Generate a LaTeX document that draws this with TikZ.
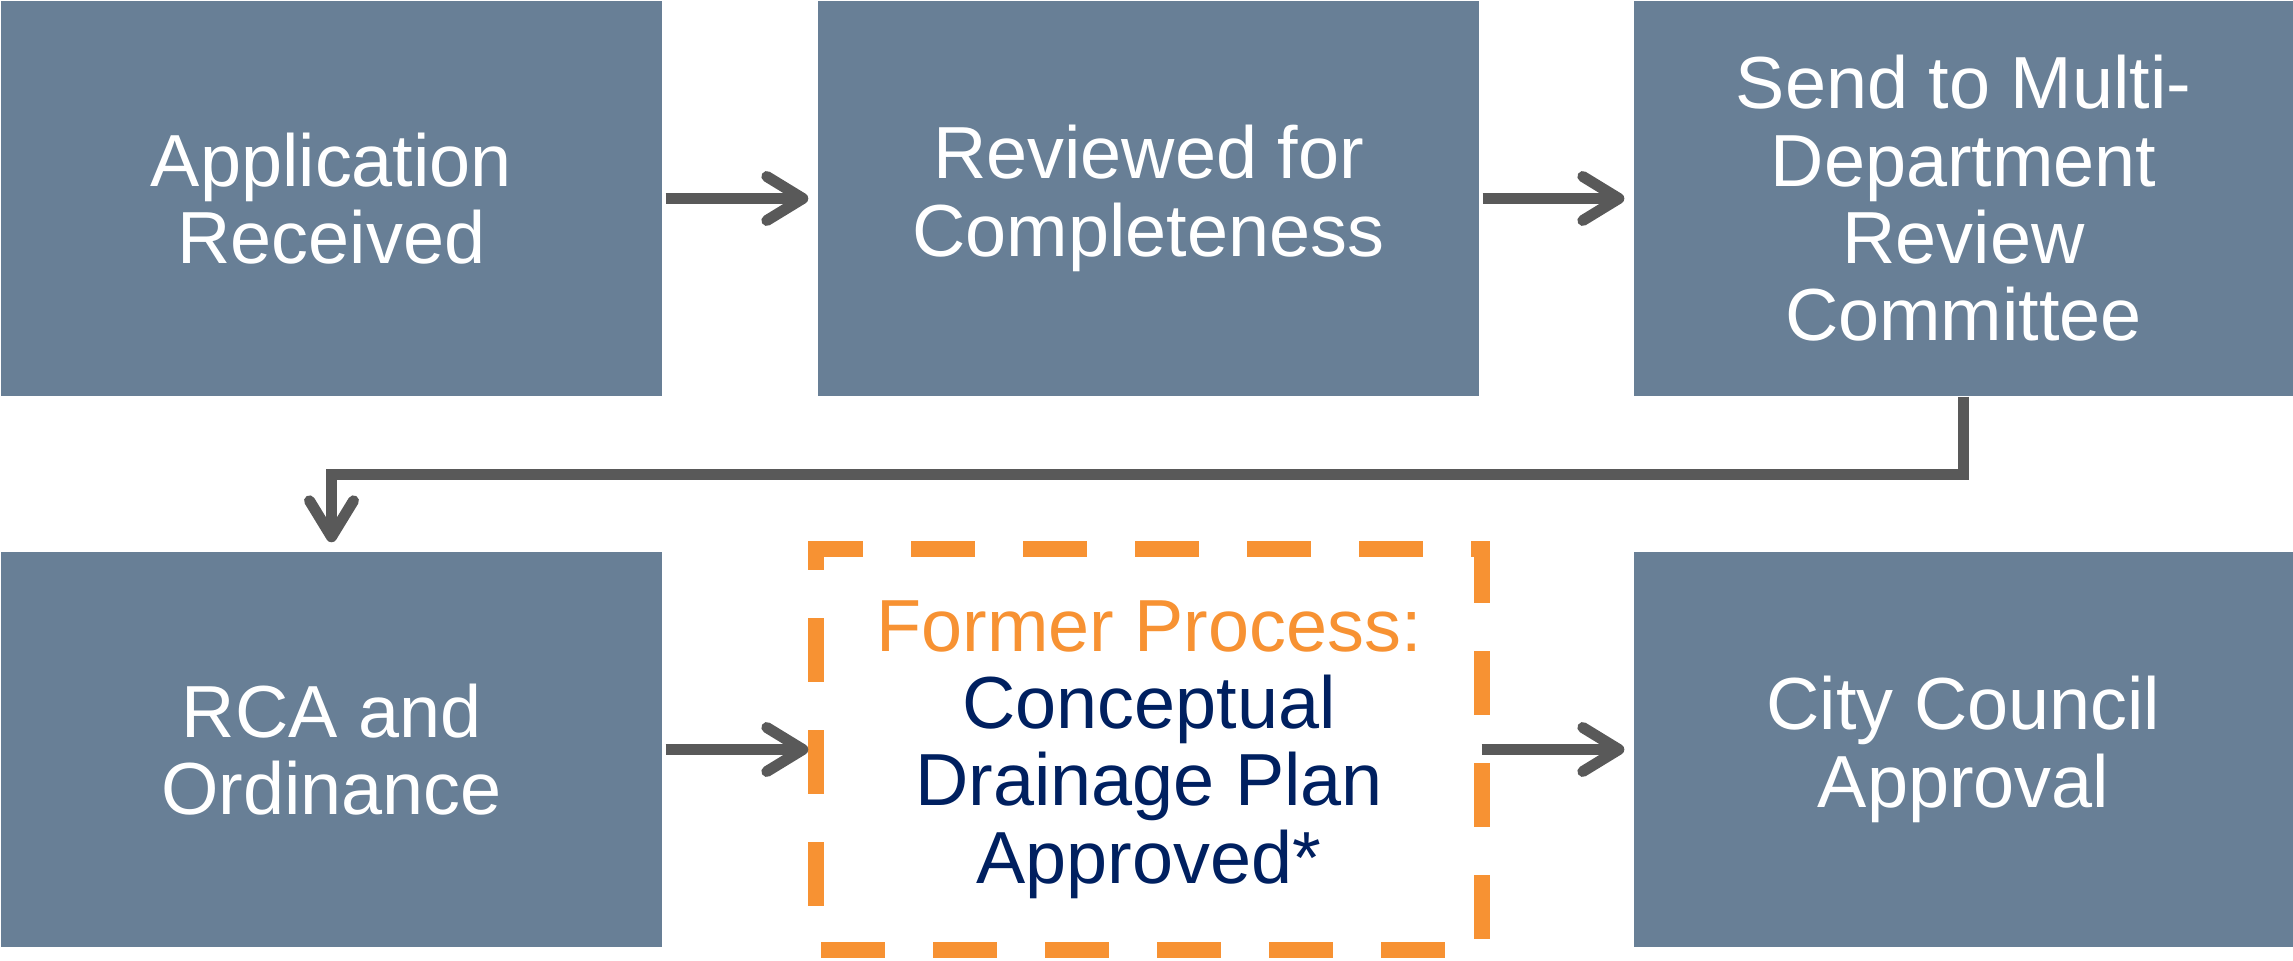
\documentclass[tikz,border=0pt]{standalone}
\usepackage{fontspec}
\setmainfont{Liberation Sans}
\usetikzlibrary{arrows.meta}

\definecolor{stepblue}{RGB}{104,127,150}
\definecolor{arrowgray}{RGB}{89,89,89}
\definecolor{formerorange}{RGB}{247,146,51}
\definecolor{plannavy}{RGB}{0,32,96}

\tikzset{
 stepbox/.style={fill=stepblue, text=white, minimum width=66.1mm, minimum height=39.5mm, inner sep=0pt, align=center, font=\fontsize{21}{22}\selectfont},
 formerbox/.style={minimum width=66.4mm, minimum height=39.9mm, inner sep=0pt, align=center, text=plannavy, font=\fontsize{21}{22}\selectfont},
 formerline/.style={draw=formerorange, line width=1.6mm, line cap=rect, dash pattern=on 4.8mm off 6.4mm, dash phase=0.9mm},
 flow/.style={draw=arrowgray, line width=1.1mm, -{Straight Barb[length=3.6mm,width=4.4mm,round]}, shorten <=0.3mm, shorten >=0.9mm}
}

\begin{document}
\begin{tikzpicture}[x=0.1mm, y=-0.1mm]
 	\useasboundingbox (0,0) rectangle (2293,961);

 	\node[stepbox] (Received) at (331.5,198.5) {Application\\Received};
 	\node[stepbox] (Reviewed) at (1148.5,198.5) {Reviewed for\\Completeness};
 	\node[stepbox, minimum width=65.9mm] (Send) at (1963.5,198.5) {Send to Multi-\\Department\\Review\\Committee};

 	\node[stepbox] (RCA) at (331.5,749.5) {RCA and\\Ordinance};
 	\node[formerbox] (Former) at (1149,749.5) {\textcolor{formerorange}{Former Process:}\\Conceptual\\Drainage Plan\\Approved*};
 	\node[stepbox, minimum width=65.9mm] (Approval) at (1963.5,749.5) {City Council\\Approval};

 	\draw[formerline] (Former.north west) -- (Former.north east) -- (Former.south east) -- (Former.south west) -- cycle;

 	% Connections
 	\draw[flow] (Received) -- (Reviewed);
 	\draw[flow] (Reviewed) -- (Send);
 	\draw[flow, shorten <=0pt] (Send.south) -- ++(0,78) -| (RCA.north);
 	\draw[flow, shorten >=0.8mm] (RCA) -- (Former);
 	\draw[flow, shorten <=0pt] (Former) -- (Approval);
\end{tikzpicture}
\end{document}
